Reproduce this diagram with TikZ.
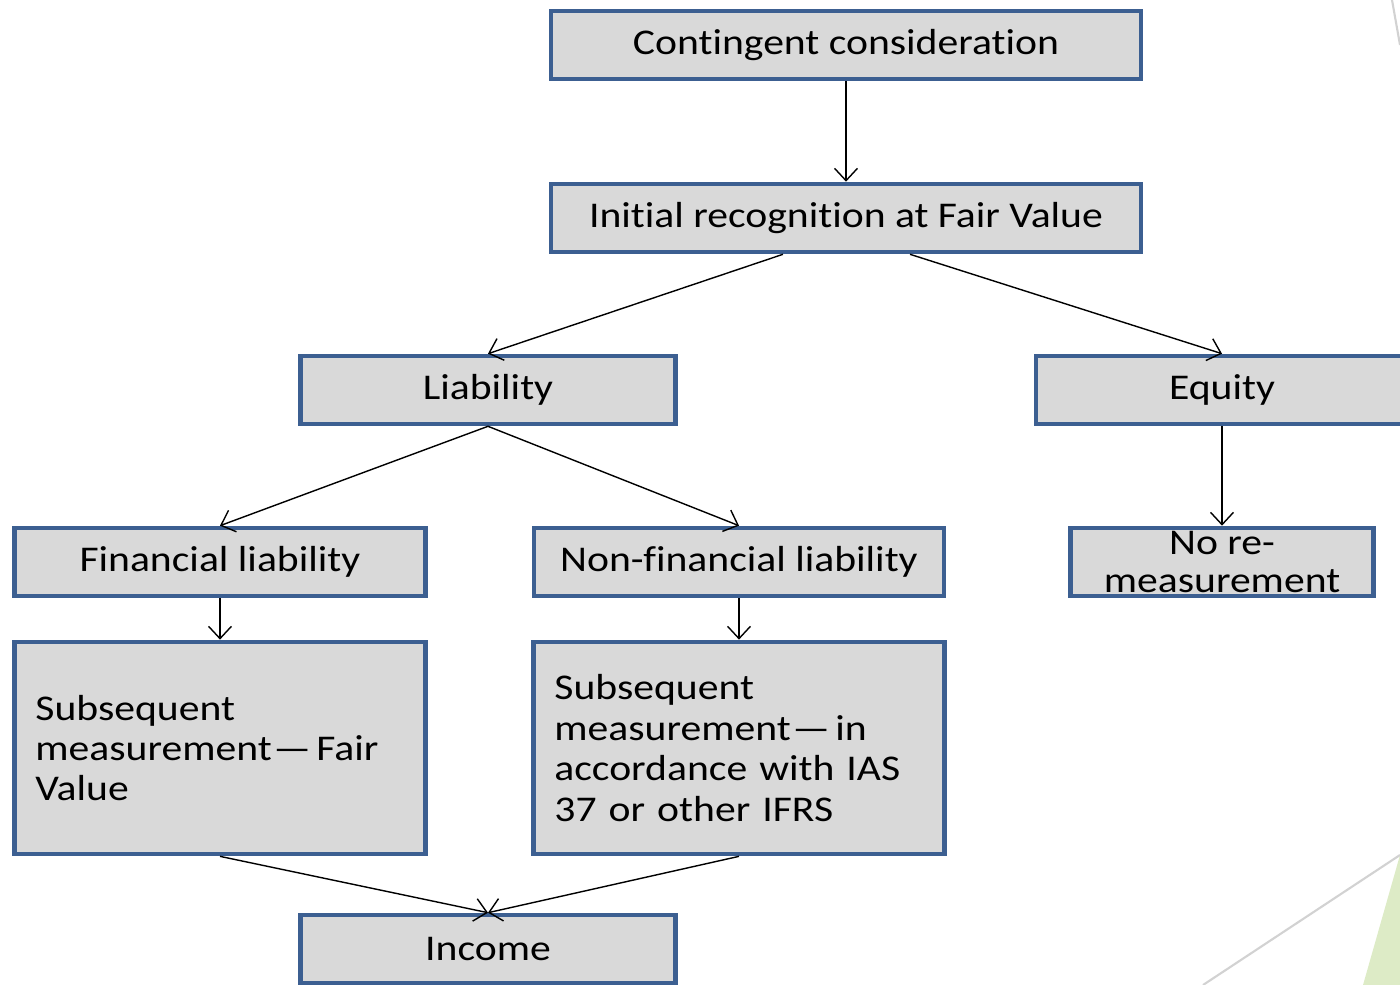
\documentclass[tikz,border=0pt]{standalone}
\usepackage{fontspec}
\setmainfont{Carlito}[FakeStretch=1.15,Ligatures=NoCommon]
\usepackage{xcolor}
\usetikzlibrary{positioning,arrows.meta}

\definecolor{boxblue}{RGB}{60,95,145}
\definecolor{boxgrey}{RGB}{217,217,217}
\definecolor{leafgreen}{RGB}{221,235,198}
\definecolor{lightline}{RGB}{210,210,210}

\begin{document}
\begin{tikzpicture}[x=0.01cm,y=-0.01cm,
		block/.style={draw=boxblue,fill=boxgrey,line width=1.3pt,
			minimum height=0.68cm,inner sep=0pt,
			font=\fontsize{10.3}{11.5}\selectfont},
		tall/.style={block,minimum height=2.12cm,inner xsep=0.21cm,
			text width=3.69cm,align=left},
		arr/.style={-{Straight Barb[length=3.5pt,width=6.5pt]},thin}]
		
		\useasboundingbox (0,0) rectangle (1400,985);
		
		% background pieces at the right edge
		\fill[leafgreen] (1400,855) -- (1363,985) -- (1400,985) -- cycle;
		\draw[lightline,line width=0.6pt] (1203,985) -- (1400,855);
		\draw[lightline,line width=0.6pt] (1392,0) -- (1400,45);
		
		\node[block,minimum width=5.90cm] (cc) at (846,45)
		{Contingent consideration};
		
		\node[block,minimum width=5.90cm] (irfv) at (846,218)
		{Initial recognition at Fair Value};
		
		\node[block,minimum width=3.75cm] (liab) at (488,390)
		{Liability};
		
		\node[block,minimum width=3.72cm] (eq) at (1222,390)
		{Equity};
		
		\node[block,minimum width=4.11cm] (finl) at (220,562)
		{Financial liability};
		
		\node[block,minimum width=4.10cm] (nfinl) at (739,562)
		{Non-financial liability};
		
		\node[block,minimum width=3.03cm,align=center] (norem) at (1222,562)
		{No re-\\[-0.5pt]measurement};
		
		\node[tall] (subfv) at (220,748)
		{Subsequent\\measurement\hspace{0.5pt}---\hspace{1.5pt}Fair\\Value};
		
		\node[tall] (subias) at (739,748)
		{Subsequent\\measurement\hspace{0.5pt}---\hspace{1.5pt}in\\accordance with IAS\\37 or other IFRS};
		
		\node[block,minimum width=3.75cm] (inc) at (488,949)
		{Income};
		
		\draw[arr] (cc) -- (irfv);
		\draw[arr] ([xshift=-0.63cm]irfv.south) -- (liab.north);
		\draw[arr] ([xshift=0.64cm]irfv.south) -- (eq.north);
		\draw[arr] (liab.south) -- (finl.north);
		\draw[arr] (liab.south) -- (nfinl.north);
		\draw[arr] (eq) -- (norem);
		\draw[arr] (finl) -- (subfv);
		\draw[arr] (nfinl) -- (subias);
		\draw[arr] (subfv.south) -- (inc.north);
		\draw[arr] (subias.south) -- (inc.north);
		
	\end{tikzpicture}
\end{document}
